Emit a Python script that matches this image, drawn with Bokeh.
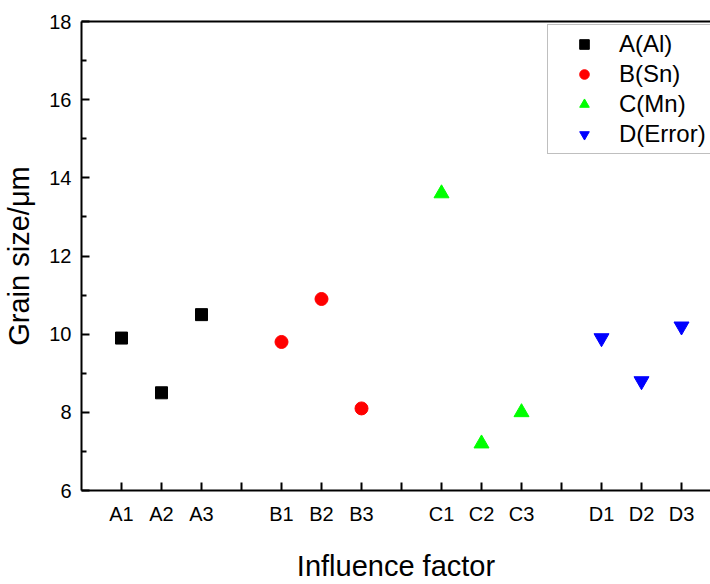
from bokeh.plotting import figure
from bokeh.models import FixedTicker, LinearAxis, Range1d, Legend, LegendItem
from bokeh.embed import file_html
from bokeh.resources import INLINE

# data
tick_labels = ["A1", "A2", "A3", "", "B1", "B2", "B3", "", "C1", "C2", "C3", "", "D1", "D2", "D3"]
a_x = [1, 2, 3]
a_y = [9.9, 8.5, 10.5]
b_x = [5, 6, 7]
b_y = [9.8, 10.9, 8.1]
c_x = [9, 10, 11]
c_y = [13.6, 7.2, 8.0]
d_x = [13, 14, 15]
d_y = [9.9, 8.8, 10.2]
series_names = ["A(Al)", "B(Sn)", "C(Mn)", "D(Error)"]

FONT = "Liberation Sans"

p = figure(width=710, height=584, output_backend="svg", toolbar_location=None,
           x_range=Range1d(0, 15.725), y_range=Range1d(6, 18),
           min_border_left=81, min_border_right=0, min_border_top=21, min_border_bottom=87)
p.outline_line_color = None
p.xgrid.visible = False
p.ygrid.visible = False
p.background_fill_color = "white"

r1 = p.scatter(a_x, a_y, marker="square", size=12, color="black")
r2 = p.scatter(b_x, b_y, marker="circle", size=13, color="red")
r3 = p.scatter(c_x, c_y, marker="triangle", size=15, color="#00ff00")
r4 = p.scatter(d_x, d_y, marker="inverted_triangle", size=15, color="blue")

xa = p.xaxis[0]
xa.ticker = FixedTicker(ticks=list(range(1, 16)))
xa.major_label_overrides = {i + 1: t for i, t in enumerate(tick_labels)}
xa.minor_tick_line_color = None
ya = p.yaxis[0]
ya.ticker = FixedTicker(ticks=[6, 8, 10, 12, 14, 16, 18], minor_ticks=[7, 9, 11, 13, 15, 17])

for ax in (xa, ya):
    ax.axis_line_width = 2
    ax.axis_line_color = "black"
    ax.major_tick_in = 8
    ax.major_tick_out = 0
    ax.minor_tick_in = 5
    ax.minor_tick_out = 0
    ax.major_tick_line_width = 2
    ax.minor_tick_line_width = 2
    ax.major_label_text_font = FONT
    ax.major_label_text_font_size = "20px"
    ax.major_label_text_color = "black"
    ax.axis_label_text_font = FONT
    ax.axis_label_text_font_size = "29px"
    ax.axis_label_text_font_style = "normal"
    ax.axis_label_text_color = "black"

xa.axis_label = "Influence factor"
xa.major_label_standoff = 12
xa.axis_label_standoff = 22
ya.axis_label = "Grain size/μm"
ya.major_label_standoff = 10
ya.axis_label_standoff = 11

top = LinearAxis(ticker=FixedTicker(ticks=[]), axis_line_width=2, axis_line_color="black",
                 major_tick_in=0, major_tick_out=0, minor_tick_in=0, minor_tick_out=0,
                 major_label_text_font_size="0px")
p.add_layout(top, "above")

legend = Legend(items=[LegendItem(label=series_names[0], renderers=[r1]),
                       LegendItem(label=series_names[1], renderers=[r2]),
                       LegendItem(label=series_names[2], renderers=[r3]),
                       LegendItem(label=series_names[3], renderers=[r4])],
                location=(466, 336), padding=5, spacing=2,
                glyph_width=62, glyph_height=24, label_height=24, label_standoff=4,
                label_text_font=FONT, label_text_font_size="24px", label_text_color="black",
                border_line_color="#808080", border_line_width=1, margin=0,
                background_fill_color="white", background_fill_alpha=1)
p.add_layout(legend, "center")

open("out.html", "w").write(file_html(p, INLINE))
